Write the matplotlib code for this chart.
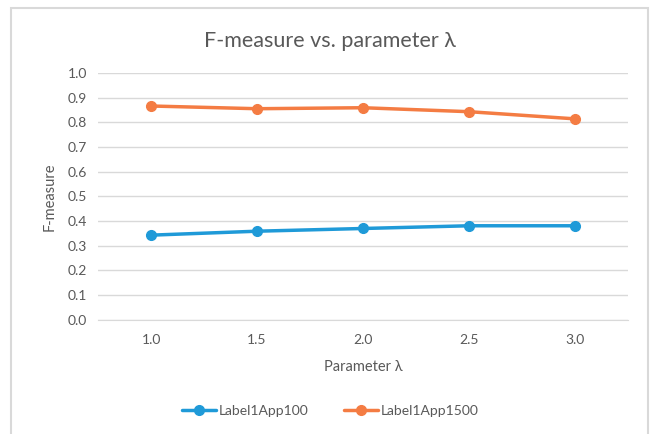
import matplotlib
matplotlib.use("Agg")
import matplotlib.pyplot as plt
from matplotlib.patches import Rectangle

plt.rcParams["font.family"] = ["Lato", "DejaVu Sans"]

lambdas = ["1.0", "1.5", "2.0", "2.5", "3.0"]
app100 = [0.343, 0.359, 0.370, 0.381, 0.381]
app1500 = [0.866, 0.855, 0.859, 0.843, 0.814]

text_gray = "#595959"
grid_gray = "#d9d9d9"

fig = plt.figure(figsize=(6.54, 4.34), dpi=100)
ax = fig.add_axes([0.150, 0.263, 0.810, 0.569])

x = list(range(len(lambdas)))
ax.plot(x, app100, color="#1f9ad8", lw=2.5, marker="o", ms=7, label="Label1App100",
        solid_capstyle="round")
ax.plot(x, app1500, color="#f47c43", lw=2.5, marker="o", ms=7, label="Label1App1500",
        solid_capstyle="round")

ax.set_xlim(-0.5, len(lambdas) - 0.5)
ax.set_ylim(0, 1.0)
ax.set_yticks([i / 10 for i in range(11)])
ax.set_yticklabels([f"{i / 10:.1f}" for i in range(11)])
ax.set_xticks(x)
ax.set_xticklabels(lambdas)

ax.grid(axis="y", color=grid_gray, lw=1)
ax.set_axisbelow(True)
for side in ["top", "right", "left"]:
    ax.spines[side].set_visible(False)
ax.spines["bottom"].set_color(grid_gray)
ax.tick_params(length=0, colors=text_gray, labelsize=10)
ax.tick_params(axis="x", pad=10)
ax.tick_params(axis="y", pad=8)

ax.set_xlabel("Parameter λ", color=text_gray, fontsize=10.5, labelpad=10)
ax.set_ylabel("F-measure", color=text_gray, fontsize=10.5, labelpad=8)
fig.text(0.505, 0.905, "F-measure vs. parameter λ", ha="center", va="center",
         color=text_gray, fontsize=15.5)

fig.legend(loc="center", bbox_to_anchor=(0.505, 0.053), ncol=2, frameon=False,
           fontsize=10, labelcolor=text_gray, handlelength=2.5, columnspacing=2.5,
           handletextpad=0.2)

# chart area border (runs off the bottom edge)
fig.patches.append(Rectangle((0.0168, -0.05), 0.974, 1.0316, transform=fig.transFigure,
                             fill=False, edgecolor="#d9d9d9", lw=1.5))

fig.savefig("out.png", dpi=100)
